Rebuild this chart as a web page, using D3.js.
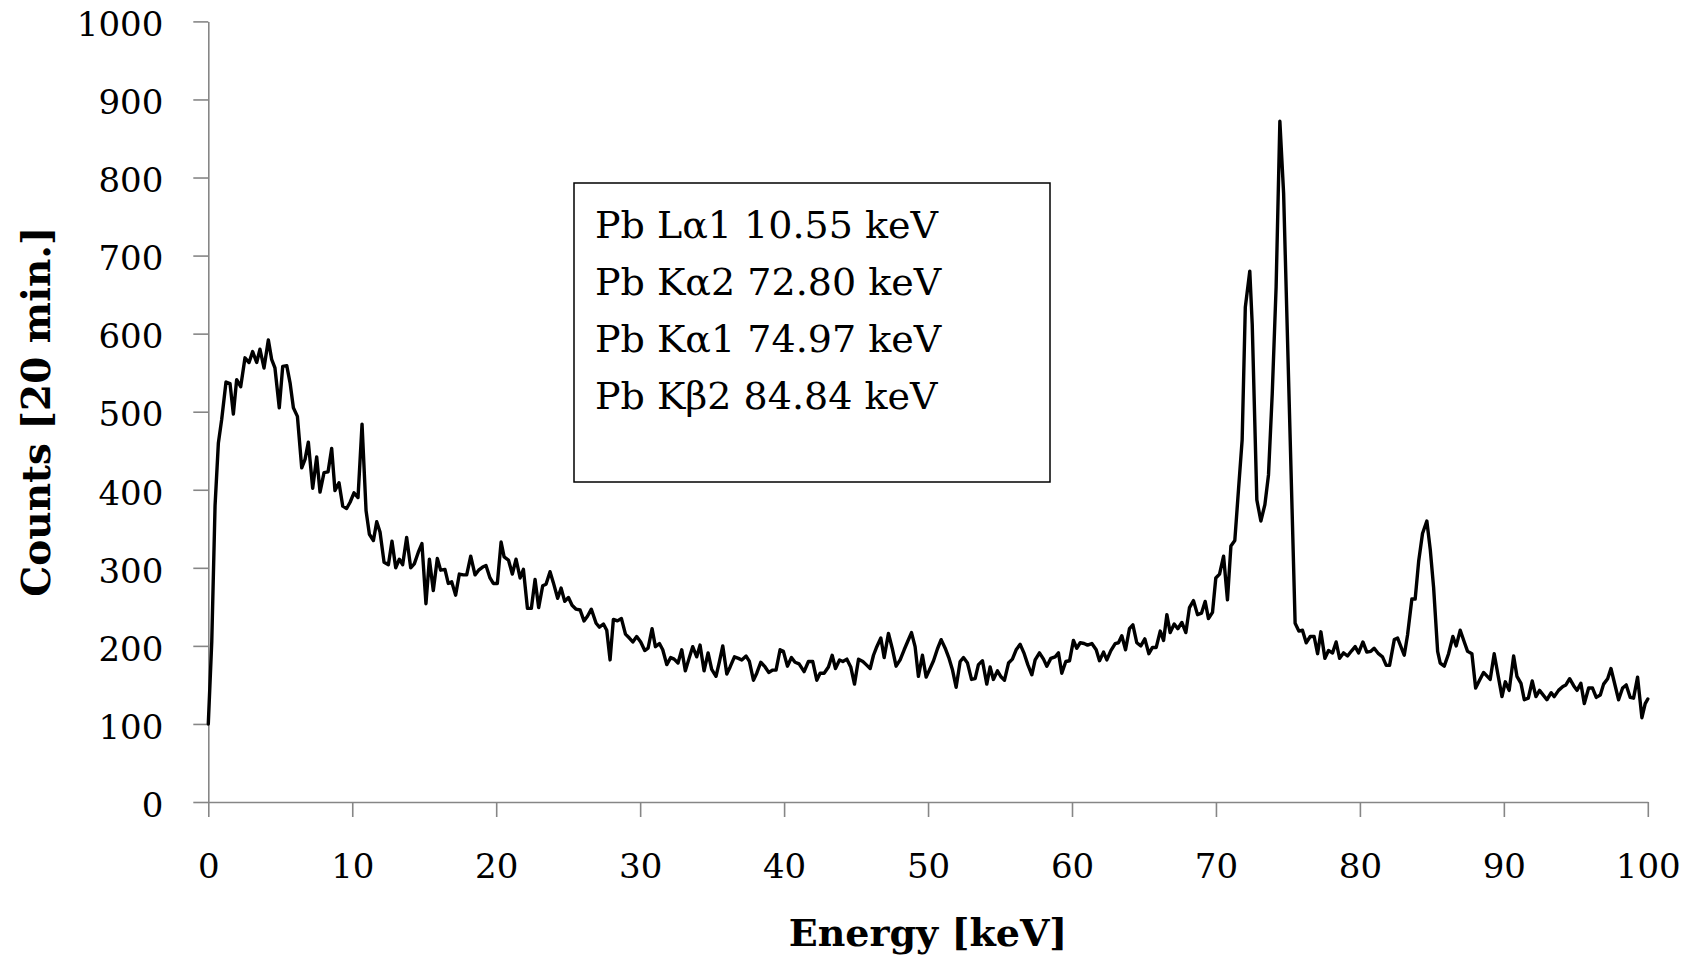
<!DOCTYPE html>
<html>
<head>
<meta charset="utf-8">
<script src="https://cdn.jsdelivr.net/npm/d3@7"></script>
<style>
  html, body { margin: 0; padding: 0; background: #ffffff; }
  svg { display: block; }
</style>
</head>
<body>
<svg id="chart" width="1686" height="958"></svg>
<script>
// ---- data ----
const energies = [
  0.00,0.24,0.47,0.70,0.93,1.23,1.51,1.74,1.97,2.25,2.55,2.83,3.08,3.36,3.59,3.87,4.17,4.40,4.63,4.93,
  5.17,5.45,5.68,5.91,6.19,6.49,6.72,6.95,7.25,7.53,7.76,8.04,8.32,8.57,8.80,9.08,9.34,9.61,9.85,10.12,
  10.40,10.68,10.96,11.19,11.47,11.70,11.93,12.21,12.51,12.76,13.02,13.27,13.50,13.78,14.06,14.31,14.59,14.84,15.12,15.36,
  15.63,15.91,16.14,16.44,16.67,16.91,17.18,17.44,17.72,17.95,18.23,18.53,18.78,19.06,19.29,19.57,
  19.80,20.08,20.34,20.55,20.85,21.12,21.38,21.66,21.89,22.17,22.44,22.70,22.95,23.23,23.46,23.74,23.97,24.27,24.51,24.76,
  25.02,25.27,25.55,25.83,26.10,26.34,26.61,26.94,27.17,27.45,27.68,27.91,28.14,28.42,28.70,28.98,29.25,29.49,29.76,30.04,
  30.32,30.55,30.83,31.06,31.34,31.57,31.85,32.12,32.36,32.63,32.89,33.14,33.40,33.65,33.93,34.16,34.44,34.72,34.97,35.27,
  35.51,35.74,36.02,36.25,36.55,36.83,37.06,37.36,37.59,37.87,38.10,38.38,38.68,38.93,39.21,39.44,39.72,39.95,40.23,40.51,
  40.76,41.04,
  41.39,41.69,41.99,42.27,42.50,42.78,43.08,43.34,43.57,43.85,44.08,44.36,44.63,44.89,45.17,45.47,45.70,45.98,46.21,46.44,
  46.72,46.95,47.25,47.51,47.78,48.06,48.34,48.57,48.85,49.10,49.33,49.61,49.87,50.14,50.38,50.65,50.91,51.19,51.44,51.70,
  51.95,52.23,52.46,52.74,53.02,53.27,53.50,53.78,54.08,54.31,54.54,54.82,55.08,55.31,55.59,55.86,56.12,56.40,56.68,56.93,
  57.21,57.44,57.74,58.02,58.25,58.53,58.83,59.06,59.29,59.57,59.83,60.10,60.33,60.57,60.84,61.08,61.38,61.68,61.91,
  62.19,62.42,62.70,63.00,63.23,63.46,63.72,63.99,64.23,64.50,64.78,65.06,65.34,65.59,65.85,66.13,66.36,66.59,66.82,67.10,
  67.35,67.63,67.91,68.16,68.44,68.72,69.00,69.25,69.48,69.76,69.99,70.25,70.53,70.80,71.04,71.31,71.57,71.82,72.04,72.35,
  72.52,72.84,73.12,73.40,73.65,73.91,74.18,74.44,74.70,75.50,75.76,76.01,76.27,76.55,76.82,77.06,77.29,77.57,77.82,78.10,
  78.35,78.59,78.86,79.14,79.44,79.67,79.91,80.21,80.48,80.76,80.99,81.29,81.57,81.83,82.06,
  82.39,82.62,83.08,83.31,83.61,83.84,84.08,84.35,84.65,84.89,85.12,85.40,85.58,85.86,86.16,86.46,86.69,86.97,87.25,87.48,
  87.78,88.04,88.31,88.59,89.05,89.33,89.61,89.87,90.10,90.37,90.68,90.91,91.19,91.42,91.70,91.97,92.23,92.48,92.99,93.29,
  93.50,93.80,94.10,94.31,94.57,94.85,95.08,95.35,95.59,95.89,96.16,96.42,96.70,96.93,97.21,97.44,97.97,98.25,98.50,98.78,
  99.01,99.29,99.59,99.82,100.00
];
const counts = [
  100,205,380,460,490,538,536,497,541,532,569,563,577,563,580,556,592,567,556,505,
  558,559,537,505,494,428,439,461,402,442,397,422,423,453,399,409,379,376,384,396,
  390,484,373,343,335,359,346,307,304,334,300,311,304,339,300,305,320,331,254,311,
  271,312,297,298,280,282,265,292,291,291,315,291,297,301,303,287,
  280,280,333,314,310,292,311,287,298,248,248,285,249,277,279,295,281,261,274,257,
  262,252,247,246,232,238,247,229,224,228,220,182,234,232,235,215,210,205,212,205,
  194,197,222,199,203,195,176,185,183,178,195,168,184,199,186,201,168,191,170,161,
  180,200,164,173,186,184,182,187,180,156,165,179,173,166,169,169,195,193,174,185,
  179,177,
  167,180,180,156,165,165,173,188,171,182,180,183,173,151,183,180,176,171,188,199,
  210,185,216,197,174,182,195,205,217,199,161,188,160,171,181,196,208,197,185,169,
  147,180,185,178,157,158,176,181,151,173,157,168,160,156,178,183,195,202,190,176,
  163,182,191,183,174,184,186,191,165,180,181,207,197,204,203,201,203,195,181,
  192,182,194,203,204,213,195,222,227,204,200,209,190,198,198,219,207,240,217,228,
  222,230,217,249,258,240,242,257,235,243,287,292,315,259,328,335,401,464,634,680,
  612,387,360,381,419,523,660,872,780,229,219,220,204,212,212,190,218,184,194,191,
  205,184,191,187,194,199,191,205,192,193,197,190,186,175,175,
  208,210,188,214,260,260,308,344,360,323,275,193,178,174,190,212,200,220,205,193,
  190,146,156,166,157,190,161,135,154,143,187,161,152,131,133,155,135,143,131,140,
  135,143,148,150,158,149,143,152,126,146,146,134,137,151,158,171,131,146,150,134,
  133,160,108,126,132
];
const xTicks = [0,10,20,30,40,50,60,70,80,90,100];
const yTicks = [0,100,200,300,400,500,600,700,800,900,1000];
const legendLines = ["Pb L\u03b11 10.55 keV", "Pb K\u03b12 72.80 keV", "Pb K\u03b11 74.97 keV", "Pb K\u03b22 84.84 keV"];
const xTitle = "Energy [keV]";
const yTitle = "Counts [20 min.]";

// ---- drawing ----
const FONT = "'DejaVu Serif', 'Liberation Serif', serif";
const svg = d3.select("#chart");
const x = d3.scaleLinear().domain([0, 100]).range([208.3, 1647.8]);
const y = d3.scaleLinear().domain([0, 1000]).range([802, 21.4]);
const axisColor = "#868686";

// Y axis
const gy = svg.append("g").attr("transform", `translate(${x(0)},0)`)
  .call(d3.axisLeft(y).tickValues(yTicks).tickSize(15).tickSizeOuter(0).tickPadding(30).tickFormat(d3.format("d")));
gy.select(".domain").attr("stroke", axisColor).attr("stroke-width", 1.6);
gy.selectAll(".tick line").attr("stroke", axisColor).attr("stroke-width", 1.6);
gy.selectAll(".tick text").attr("fill", "#000").attr("dy", "0.42em")
  .style("font-family", FONT).style("font-size", "34px");

// X axis
const gx = svg.append("g").attr("transform", `translate(0,${y(0)})`)
  .call(d3.axisBottom(x).tickValues(xTicks).tickSize(15).tickSizeOuter(0).tickFormat(d3.format("d")));
gx.select(".domain").attr("stroke", axisColor).attr("stroke-width", 1.6);
gx.selectAll(".tick line").attr("stroke", axisColor).attr("stroke-width", 1.6);
gx.selectAll(".tick text").attr("fill", "#000").attr("y", 76).attr("dy", 0)
  .style("font-family", FONT).style("font-size", "34px");

// Spectrum line
const pts = energies.map((e, i) => [e, counts[i]]);
svg.append("path").datum(pts)
  .attr("fill", "none").attr("stroke", "#000").attr("stroke-width", 3.4)
  .attr("stroke-linejoin", "round").attr("stroke-linecap", "round")
  .attr("d", d3.line().x(d => x(d[0])).y(d => y(d[1])));

// Axis titles
svg.append("text").text(xTitle)
  .attr("x", (x(0) + x(100)) / 2).attr("y", 946).attr("text-anchor", "middle")
  .style("font-family", FONT).style("font-size", "38px").style("font-weight", "bold");
svg.append("text").text(yTitle)
  .attr("transform", `translate(50,${(y(0) + y(1000)) / 2}) rotate(-90)`)
  .attr("text-anchor", "middle")
  .style("font-family", FONT).style("font-size", "39px").style("font-weight", "bold");

// Legend box
const lg = svg.append("g");
lg.append("rect").attr("x", 574).attr("y", 183).attr("width", 476).attr("height", 299)
  .attr("fill", "#fff").attr("stroke", "#000").attr("stroke-width", 1.5);
lg.selectAll("text.lg").data(legendLines).enter().append("text")
  .attr("class", "lg")
  .attr("x", 595).attr("y", (d, i) => 238 + i * 57)
  .text(d => d)
  .style("font-family", FONT).style("font-size", "38px");
</script>
</body>
</html>
